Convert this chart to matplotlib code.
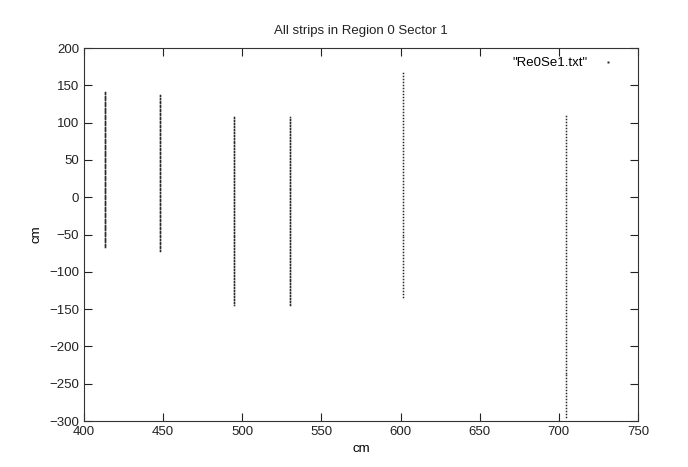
import numpy as np
import matplotlib
matplotlib.use("Agg")
import matplotlib.pyplot as plt

plt.rcParams['font.family'] = ['Liberation Sans', 'DejaVu Sans']

# strip positions (cm) and their vertical extent / point pitch
strip_x = [413.0, 448.0, 494.5, 530.0, 601.5, 704.5]
strip_ytop = [142.0, 138.0, 108.0, 107.0, 169.0, 110.0]
strip_ybot = [-67.0, -72.0, -144.0, -145.0, -134.0, -295.0]
strip_step = [1.6, 1.8, 2.0, 2.0, 4.0, 4.0]

title = "All strips in Region 0 Sector 1"
legend_label = '"Re0Se1.txt"'
xticks = [400, 450, 500, 550, 600, 650, 700, 750]
yticks = [200, 150, 100, 50, 0, -50, -100, -150, -200, -250, -300]

xs, ys = [], []
for x0, yt, yb, st in zip(strip_x, strip_ytop, strip_ybot, strip_step):
    yy = np.arange(yb, yt + 1e-9, st)
    xs.append(np.full_like(yy, x0))
    ys.append(yy)
xs = np.concatenate(xs)
ys = np.concatenate(ys)

fig = plt.figure(figsize=(6.88, 4.67), dpi=100)
ax = fig.add_axes([84/688, 1-421/467, (638-84)/688, (421-48)/467])
ax.plot(xs, ys, linestyle='none', marker='s', markersize=1.1,
        markeredgewidth=0, color='#2a2a2a', label=legend_label)
ax.set_xlim(400, 750)
ax.set_ylim(-300, 200)
ax.set_xticks(xticks)
ax.set_yticks(yticks)
ax.tick_params(direction='in', top=True, right=True, length=6, width=0.8,
               labelsize=9.5, colors='#222222')
for s in ax.spines.values():
    s.set_linewidth(0.8)
    s.set_color('#333333')
ax.set_title(title, fontsize=9.5, pad=10, color='#222222')
ax.set_xlabel("cm", fontsize=9.5, labelpad=4)
ax.set_ylabel("cm", fontsize=9.5, labelpad=5)
leg = ax.legend(loc='upper right', bbox_to_anchor=(0.98, 1.0), frameon=False,
                fontsize=9.5, markerfirst=False, markerscale=1.3,
                handlelength=1.5, borderaxespad=0.3)
fig.savefig("out.png", dpi=100)
